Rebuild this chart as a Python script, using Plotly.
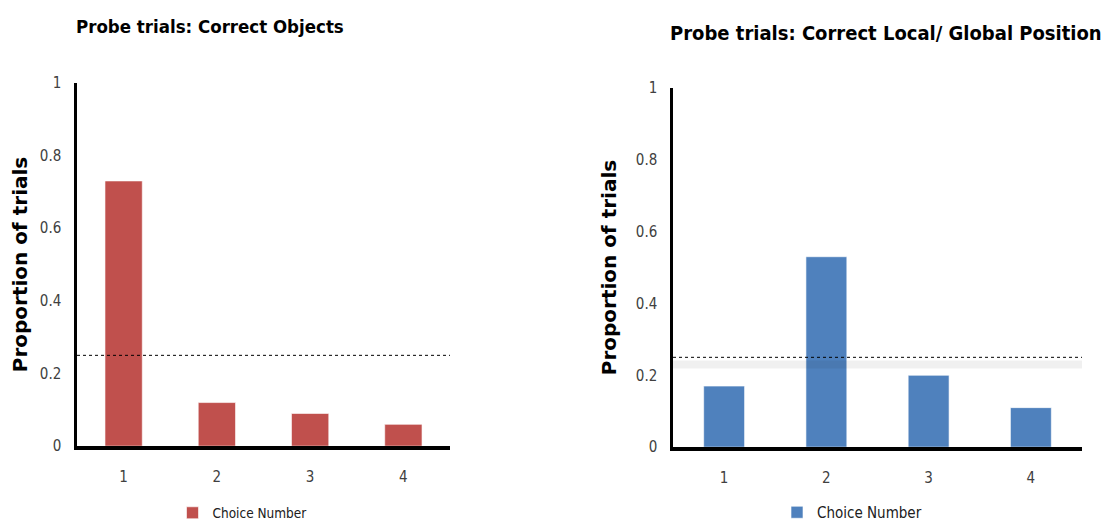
import plotly.graph_objects as go

categories = [1, 2, 3, 4]
objects_values = [0.73, 0.12, 0.09, 0.06]
position_values = [0.17, 0.53, 0.20, 0.11]
chance_level = 0.25
shadow_level = 0.23
y_ticks = [0, 0.2, 0.4, 0.6, 0.8, 1]
y_tick_text = ["0", "0.2", "0.4", "0.6", "0.8", "1"]
titles = ["Probe trials: Correct Objects", "Probe trials: Correct Local/ Global Position"]
legend_name = "Choice Number"
y_title = "Proportion of trials"

RED = "#C0504D"
BLUE = "#4F81BD"
NARROW = "DejaVu Sans Condensed, Liberation Sans Narrow, sans-serif"

# page body has an 8px margin: work in reference pixels and shift
OFF = 8
W, H = 1102, 521


def fx(px):
    return (px - OFF) / W


def fy(py):
    return 1 - (py - OFF) / H


fig = go.Figure()

fig.add_trace(go.Bar(x=categories, y=objects_values, name=legend_name, width=0.4,
                     marker=dict(color=RED, line=dict(color="rgba(255,255,255,0.6)", width=1)),
                     xaxis="x", yaxis="y", legend="legend"))
fig.add_trace(go.Scatter(x=[0.5, 4.5], y=[chance_level] * 2, mode="lines",
                         line=dict(color="black", width=1, dash="dot"),
                         showlegend=False, xaxis="x", yaxis="y", hoverinfo="skip"))

fig.add_trace(go.Bar(x=categories, y=position_values, name=legend_name, width=0.4,
                     marker=dict(color=BLUE, line=dict(color="rgba(255,255,255,0.6)", width=1)),
                     xaxis="x2", yaxis="y2", legend="legend2"))
fig.add_trace(go.Scatter(x=[0.5, 4.5], y=[shadow_level] * 2, mode="lines",
                         line=dict(color="rgba(0,0,0,0.06)", width=8),
                         showlegend=False, xaxis="x2", yaxis="y2", hoverinfo="skip"))
fig.add_trace(go.Scatter(x=[0.5, 4.5], y=[chance_level] * 2, mode="lines",
                         line=dict(color="black", width=1, dash="dot"),
                         showlegend=False, xaxis="x2", yaxis="y2", hoverinfo="skip"))

tickfont = dict(family=NARROW, size=15, color="#404040")
xcommon = dict(range=[0.5, 4.5], tickvals=categories, showline=True, linecolor="black",
               linewidth=4, ticks="", showgrid=False, zeroline=False, tickfont=tickfont,
               ticklabelstandoff=14, fixedrange=True, automargin=False)
ycommon = dict(range=[0, 1], tickvals=y_ticks, ticktext=y_tick_text, showline=True,
               linecolor="black", linewidth=2.5, ticks="", showgrid=False, zeroline=False,
               tickfont=tickfont, ticklabelstandoff=10, fixedrange=True, automargin=False,
               title=dict(text=y_title, font=dict(family="DejaVu Sans", size=20, color="black",
                                                  weight="bold"), standoff=14))

fig.update_layout(
    width=W, height=H, margin=dict(l=0, r=0, t=0, b=0),
    paper_bgcolor="white", plot_bgcolor="white", bargap=0.6,
    xaxis=dict(domain=[fx(77), fx(450)], anchor="y", **xcommon),
    yaxis=dict(domain=[fy(447), fy(83)], anchor="x", **ycommon),
    xaxis2=dict(domain=[fx(673), fx(1082)], anchor="y2", **xcommon),
    yaxis2=dict(domain=[fy(448), fy(88)], anchor="x2", **ycommon),
    legend=dict(x=fx(242), y=fy(513), xanchor="center", yanchor="middle",
                font=dict(family=NARROW, size=13.5, color="#202020"), bgcolor="rgba(0,0,0,0)",
                itemwidth=30),
    legend2=dict(x=fx(852), y=fy(513), xanchor="center", yanchor="middle",
                 font=dict(family=NARROW, size=15, color="#202020"), bgcolor="rgba(0,0,0,0)",
                 itemwidth=30),
    annotations=[
        dict(text="<b>" + titles[0] + "</b>", x=fx(74), y=fy(27), xref="paper", yref="paper",
             xanchor="left", yanchor="middle", showarrow=False,
             font=dict(family=NARROW, size=18.5, color="black")),
        dict(text="<b>" + titles[1] + "</b>", x=fx(668), y=fy(33), xref="paper", yref="paper",
             xanchor="left", yanchor="middle", showarrow=False,
             font=dict(family=NARROW, size=20, color="black")),
    ],
)

fig.write_html("out.html")
